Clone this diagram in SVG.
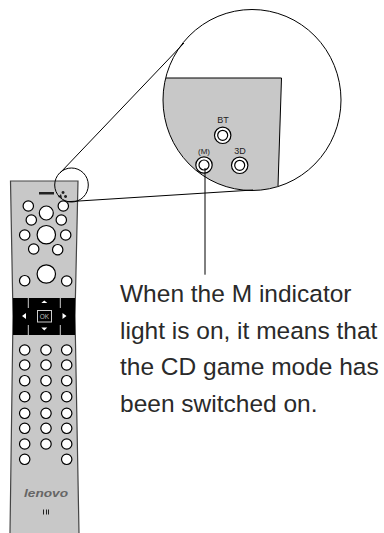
<svg xmlns="http://www.w3.org/2000/svg" width="384" height="533" viewBox="0 0 384 533">
<style>
.b{fill:#fff;stroke:#000;stroke-width:1.200}
.l{fill:none;stroke:#000;stroke-width:1}
.t{font-family:"Liberation Sans",Arial,sans-serif}
.c{font-size:24.500px;fill:#2a2a2a}
.s{font-size:9px;fill:#222;text-anchor:middle}
.r circle{r:5.200px}
</style>
<defs><clipPath id="lens"><ellipse cx="252" cy="100" rx="89" ry="90.500"/></clipPath></defs>
<g id="remote">
<path d="M10.500 181H78L75 316L79 533H10L13 316Z" fill="#c8c8c8"/>
<path d="M10 533L13 316L10.500 181H78L75 316L79 533" fill="none" stroke="#444" stroke-width="1.200"/>
<rect x="39" y="192" width="15" height="2.500" fill="#222"/>
<path d="M58 197l3 -3 1 4zM63 191a1.500 1.500 0 1 0 .1 0zM65.500 195a1.500 1.500 0 1 0 .1 0z" fill="#222"/>
<g class="b">
<circle cx="46.300" cy="213" r="7"/>
<circle cx="46.300" cy="234.700" r="9.200"/>
<circle cx="46.300" cy="274" r="9.200"/>
<g class="r">
<circle cx="28.300" cy="206" r="5.200"/><circle cx="63.300" cy="206" r="5.200"/>
<circle cx="31.300" cy="220" r="5.200"/><circle cx="61.300" cy="220" r="5.200"/>
<circle cx="24.700" cy="235" r="5.200"/><circle cx="65.700" cy="235" r="5.200"/>
<circle cx="33.700" cy="249" r="5.200"/><circle cx="57.700" cy="249.700" r="5.200"/>
<circle cx="24.700" cy="280.700" r="5.200"/><circle cx="66.700" cy="281" r="5.200"/>
<circle cx="24.700" cy="350" r="5.200"/><circle cx="46" cy="350" r="5.200"/><circle cx="66.700" cy="350" r="5.200"/>
<circle cx="24.700" cy="365" r="5.200"/><circle cx="46" cy="365" r="5.200"/><circle cx="66.700" cy="365" r="5.200"/>
<circle cx="24.700" cy="380.700" r="5.200"/><circle cx="46" cy="380.700" r="5.200"/><circle cx="66.700" cy="380.700" r="5.200"/>
<circle cx="24.700" cy="396.700" r="5.200"/><circle cx="46" cy="396.700" r="5.200"/><circle cx="66.700" cy="396.700" r="5.200"/>
<circle cx="24.700" cy="413.300" r="5.200"/><circle cx="46" cy="413.300" r="5.200"/><circle cx="66.700" cy="413.300" r="5.200"/>
<circle cx="24.700" cy="428.300" r="5.200"/><circle cx="46" cy="428.300" r="5.200"/><circle cx="66.700" cy="428.300" r="5.200"/>
<circle cx="24.700" cy="444" r="5.200"/><circle cx="46" cy="444" r="5.200"/><circle cx="66.700" cy="444" r="5.200"/>
<circle cx="24.700" cy="459.300" r="5.200"/><circle cx="66.700" cy="459.300" r="5.200"/>
</g>
</g>
<rect x="13" y="298" width="62" height="37" fill="#000"/>
<path d="M28.300 298v10M28.300 325v10M60.300 298v10M60.300 325v10" stroke="#ccc" fill="none"/>
<path d="M44.300 300.500l3 2.500h-6zM44.300 330.500l-3 -3h6zM22 316l4 -3v6zM66.500 316l-4 -3v6z" fill="#fff"/>
<rect x="37.500" y="310.500" width="14" height="11.500" fill="none" stroke="#ccc"/>
<text x="44.500" y="319" class="t" font-size="6.500" fill="#bbb" text-anchor="middle">OK</text>
<text x="46" y="497" class="t" font-size="11.500" font-style="italic" font-weight="bold" fill="#666" text-anchor="middle" textLength="44" lengthAdjust="spacingAndGlyphs">lenovo</text>
<path d="M43.500 509.500v5M46.500 509.500v5M48.500 509.500v5" stroke="#222" fill="none"/>
</g>
<g id="zoom">
<path d="M160 78H281.500L278 195H160Z" fill="#c8c8c8" clip-path="url(#lens)"/>
<path d="M166 78H281.500L278 186" class="l" stroke-width="1.200"/>
<ellipse cx="252" cy="100" rx="89" ry="90.500" class="l"/>
<g id="bt"><circle cx="222.700" cy="135.300" r="8.200" class="b"/><circle cx="222.700" cy="135.300" r="5" class="b"/><text x="223" y="123" class="t s">BT</text></g>
<g id="m"><circle cx="204" cy="165" r="8.200" class="b"/><circle cx="204" cy="165" r="5" class="b"/><text x="204" y="154" class="t s" style="font-size:8px">(M)</text></g>
<g id="d3"><circle cx="239.700" cy="165.300" r="8.200" class="b"/><circle cx="239.700" cy="165.300" r="5" class="b"/><text x="240" y="154" class="t s">3D</text></g>
</g>
<g id="connectors">
<ellipse cx="71.500" cy="185" rx="16.800" ry="17" class="l"/>
<path d="M60 173L184 43M68 201.700L253 190M205 168V274.700" class="l"/>
</g>
<g id="caption" class="t c">
<text x="120" y="302">When the M indicator</text>
<text x="120" y="339">light is on, it means that</text>
<text x="120" y="375">the CD game mode has</text>
<text x="120" y="412">been switched on.</text>
</g>
</svg>
